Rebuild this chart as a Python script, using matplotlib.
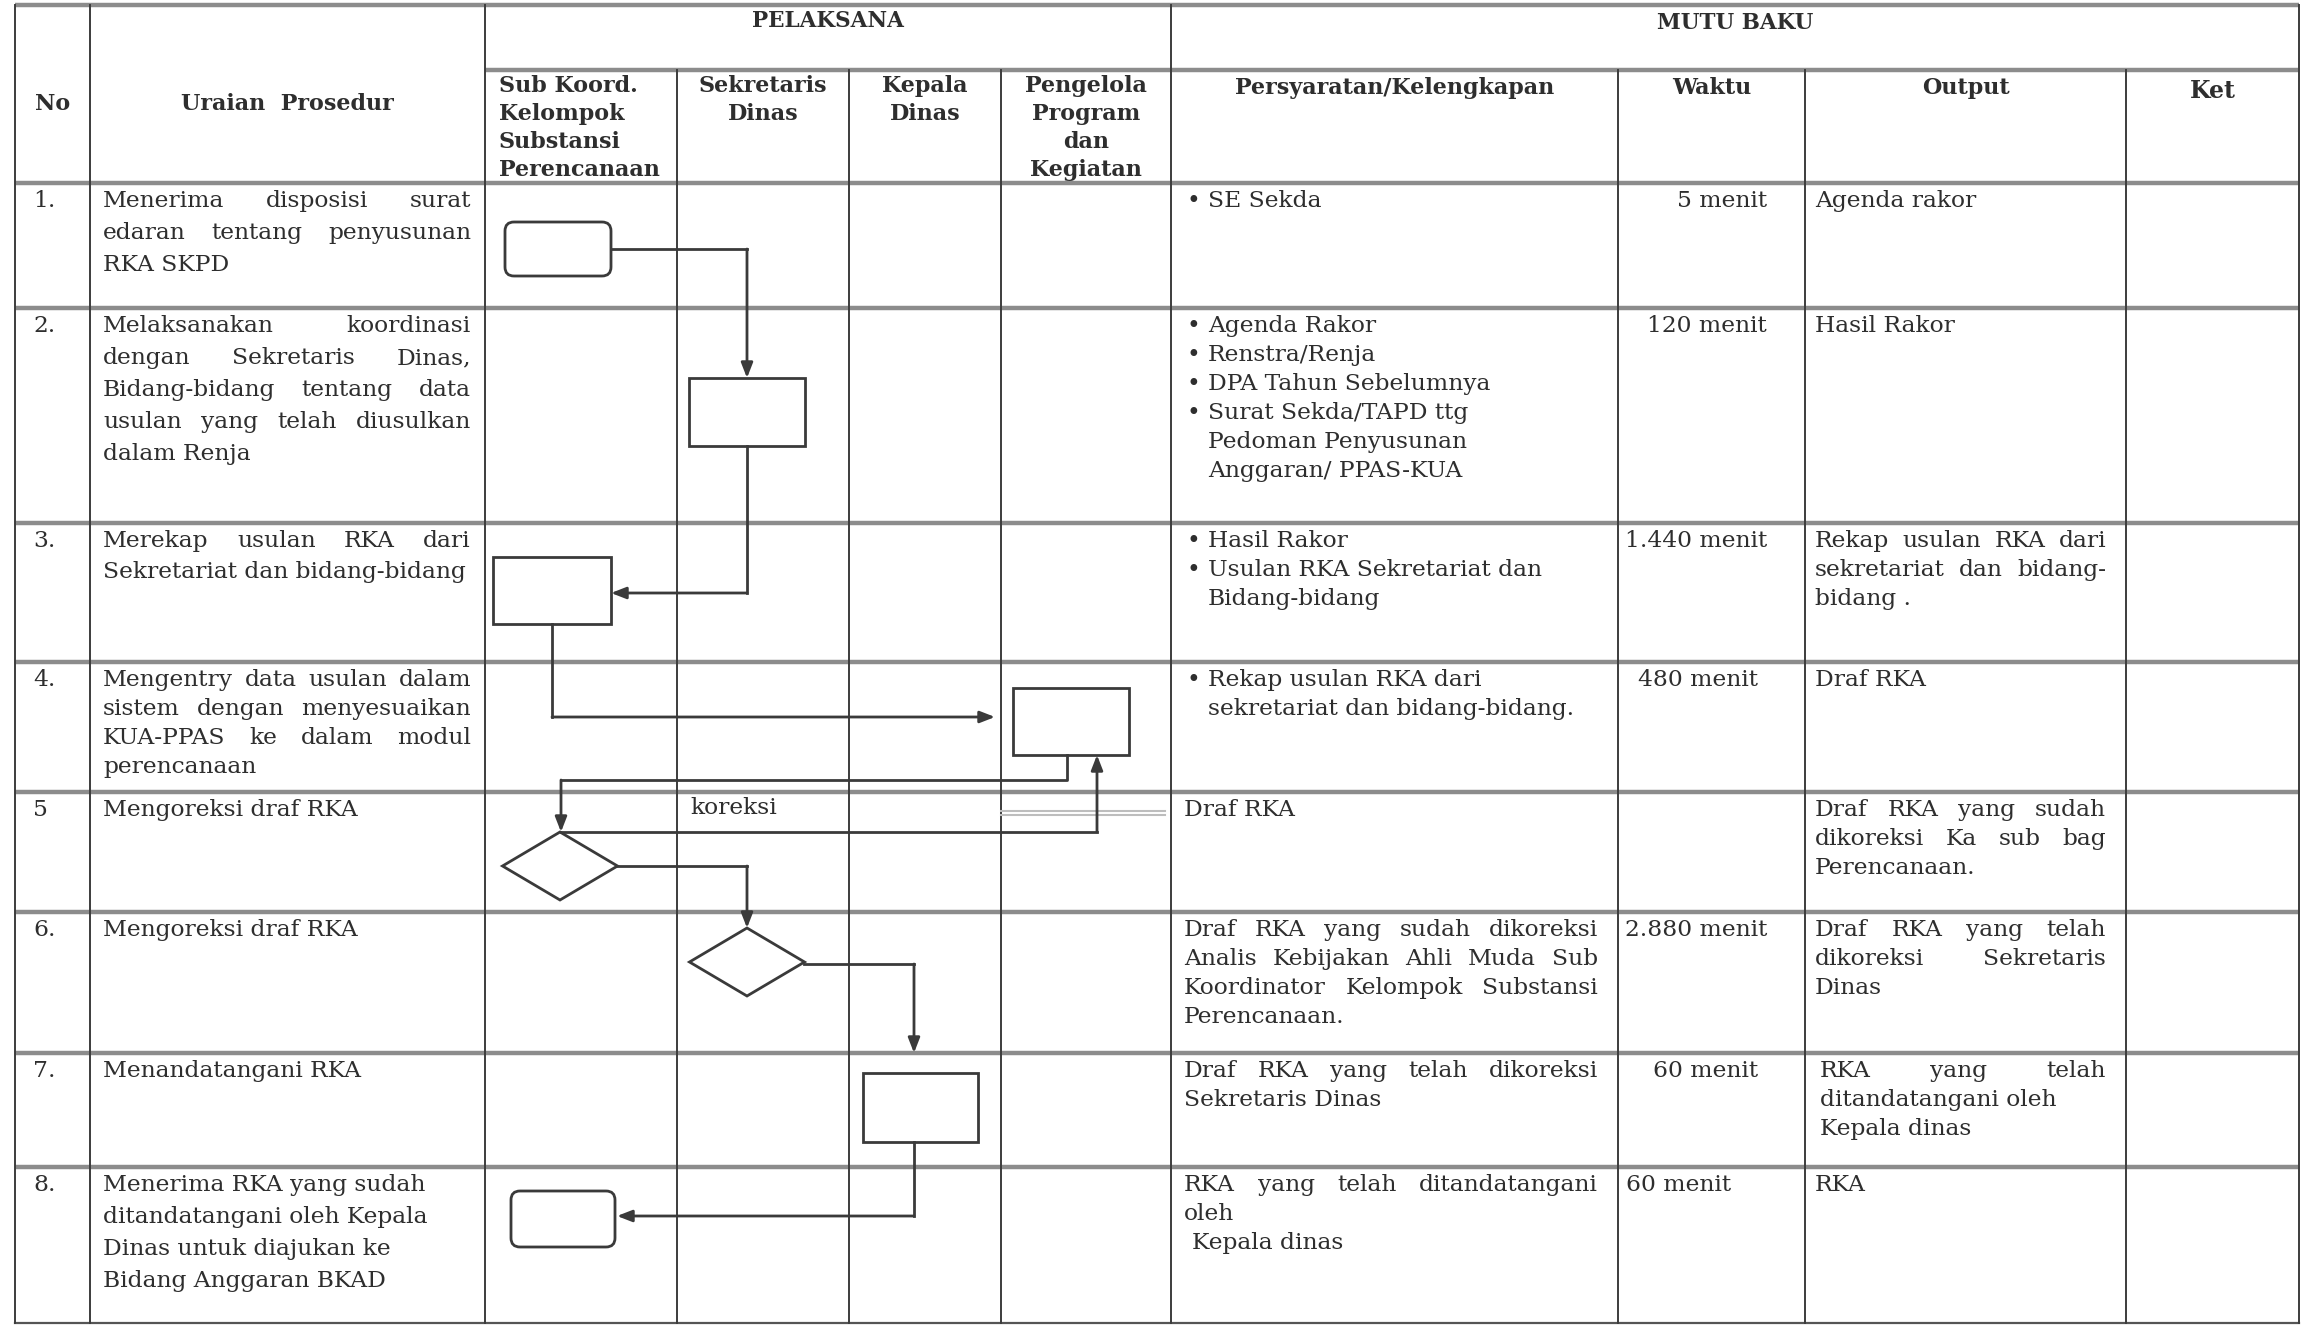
import matplotlib
matplotlib.use('Agg')
import matplotlib.pyplot as plt
from matplotlib.patches import FancyBboxPatch, Rectangle, Polygon

# ---- table content ----
nomor = ['1.', '2.', '3.', '4.', '5', '6.', '7.', '8.']

uraian = [
    ['Menerima disposisi surat', 'edaran tentang penyusunan', 'RKA SKPD'],
    ['Melaksanakan koordinasi', 'dengan Sekretaris Dinas,', 'Bidang-bidang tentang data',
     'usulan yang telah diusulkan', 'dalam Renja'],
    ['Merekap usulan RKA dari', 'Sekretariat dan bidang-bidang'],
    ['Mengentry data usulan dalam', 'sistem dengan menyesuaikan', 'KUA-PPAS ke dalam modul',
     'perencanaan'],
    ['Mengoreksi draf RKA'],
    ['Mengoreksi draf RKA'],
    ['Menandatangani RKA'],
    ['Menerima RKA yang sudah', 'ditandatangani oleh Kepala', 'Dinas untuk diajukan ke',
     'Bidang Anggaran BKAD'],
]
uraian_just = [2, 4, 1, 3, 0, 0, 0, 0]

syarat = [
    ['• SE Sekda'],
    ['• Agenda Rakor', '• Renstra/Renja', '• DPA Tahun Sebelumnya', '• Surat Sekda/TAPD ttg',
     'Pedoman Penyusunan', 'Anggaran/ PPAS-KUA'],
    ['• Hasil Rakor', '• Usulan RKA Sekretariat dan', 'Bidang-bidang'],
    ['• Rekap usulan RKA dari', 'sekretariat dan bidang-bidang.'],
    ['Draf RKA'],
    ['Draf RKA yang sudah dikoreksi', 'Analis Kebijakan Ahli Muda Sub',
     'Koordinator Kelompok Substansi', 'Perencanaan.'],
    ['Draf RKA yang telah dikoreksi', 'Sekretaris Dinas'],
    ['RKA yang telah ditandatangani', 'oleh', ' Kepala dinas'],
]
syarat_just = [0, 0, 0, 0, 0, 3, 1, 1]

waktu = ['5 menit', '120 menit', '1.440 menit', '480 menit', '', '2.880 menit', '60 menit', '60 menit']

output = [
    ['Agenda rakor'],
    ['Hasil Rakor'],
    ['Rekap usulan RKA dari', 'sekretariat dan bidang-', 'bidang .'],
    ['Draf RKA'],
    ['Draf RKA yang sudah', 'dikoreksi Ka sub bag', 'Perencanaan.'],
    ['Draf RKA yang telah', 'dikoreksi Sekretaris', 'Dinas'],
    ['RKA yang telah', 'ditandatangani oleh', 'Kepala dinas'],
    ['RKA'],
]
output_just = [0, 0, 2, 0, 2, 2, 1, 0]

pelaksana = ['Sub Koord.\nKelompok\nSubstansi\nPerencanaan', 'Sekretaris\nDinas',
             'Kepala\nDinas', 'Pengelola\nProgram\ndan\nKegiatan']
mutu = ['Persyaratan/Kelengkapan', 'Waktu', 'Output', 'Ket']

# flowchart symbols: kind, centre x, centre y, width, height
shapes = [
    ('term', 558, 249, 106, 54),
    ('proc', 747, 412, 116, 68),
    ('proc', 552, 590, 118, 67),
    ('proc', 1071, 721, 116, 67),
    ('dec', 560, 866, 115, 68),
    ('dec', 747, 962, 115, 68),
    ('proc', 920, 1107, 115, 69),
    ('term', 563, 1219, 104, 56),
]
connectors = [
    [(611, 249), (747, 249), (747, 378)],
    [(747, 446), (747, 593), (611, 593)],
    [(552, 624), (552, 717), (995, 717)],
    [(1067, 755), (1067, 780), (561, 780), (561, 832)],
    [(561, 832), (1097, 832), (1097, 755)],
    [(617, 866), (747, 866), (747, 928)],
    [(804, 964), (914, 964), (914, 1053)],
    [(914, 1142), (914, 1216), (617, 1216)],
]

# ---- layout ----
W, H = 2309, 1325
col_x = [15, 90, 485, 677, 849, 1001, 1171, 1618, 1805, 2126, 2299]
row_y = [183, 308, 523, 662, 792, 912, 1053, 1167, 1323]
top_y, mid_y = 5, 70
ur_step = [32, 32, 31, 29, 32, 32, 32, 32]

INK = '#2e2e2e'
SERIF = 'DejaVu Serif'
FS = 16.8

fig = plt.figure(figsize=(W / 100, H / 100), dpi=100)
fig.patch.set_facecolor('white')
ax = fig.add_axes([0, 0, 1, 1])
ax.set_xlim(0, W)
ax.set_ylim(H, 0)
ax.axis('off')
renderer = fig.canvas.get_renderer()

# grid
hkw = dict(color='#8c8c8c', lw=3.2, solid_capstyle='butt')
vkw = dict(color='#3c3c3c', lw=1.4)
ax.plot([col_x[0], col_x[-1]], [top_y, top_y], **hkw)
ax.plot([col_x[2], col_x[-1]], [mid_y, mid_y], **hkw)
for y in row_y[:-1]:
    ax.plot([col_x[0], col_x[-1]], [y, y], **hkw)
ax.plot([col_x[0], col_x[-1]], [row_y[-1], row_y[-1]], color='#555555', lw=1.6)
for i, x in enumerate(col_x):
    y0 = top_y if i in (0, 1, 2, 6, 10) else mid_y
    ax.plot([x, x], [y0, row_y[-1]], **vkw)
# faint double stroke left in the scan (row 5, last lane)
ax.plot([col_x[5], col_x[6] - 6], [811, 811], color='#bdbdbd', lw=1.5)
ax.plot([col_x[5], col_x[6] - 6], [815, 815], color='#bdbdbd', lw=1.5)


def width_of(s, **kw):
    t = ax.text(0, 0, s, **kw)
    w = t.get_window_extent(renderer=renderer).width
    t.remove()
    return w


def put(x0, x1, y, s, justify, **kw):
    if not justify:
        ax.text(x0, y, s, ha='left', va='center', **kw)
        return
    words = s.split()
    ws = [width_of(w, **kw) for w in words]
    gap = (x1 - x0 - sum(ws)) / max(len(words) - 1, 1)
    x = x0
    for w, wd in zip(words, ws):
        ax.text(x, y, w, ha='left', va='center', **kw)
        x += wd + gap


body = dict(fontsize=FS, family=SERIF, color=INK)
bold = dict(fontsize=16, family=SERIF, color=INK, fontweight='bold')

# header
ax.text((col_x[0] + col_x[1]) / 2, 104, 'No', ha='center', va='center', **bold)
ax.text((col_x[1] + col_x[2]) / 2, 104, 'Uraian  Prosedur', ha='center', va='center', **bold)
ax.text((col_x[2] + col_x[6]) / 2, 21, 'PELAKSANA', ha='center', va='center',
        **{**bold, 'fontsize': 15.5})
ax.text((col_x[6] + col_x[10]) / 2, 23, 'MUTU BAKU', ha='center', va='center',
        **{**bold, 'fontsize': 15.5})
for i, lab in enumerate(pelaksana):
    for j, line in enumerate(lab.split('\n')):
        if i == 0:
            ax.text(col_x[2] + 14, 86 + 28 * j, line, ha='left', va='center', **bold)
        else:
            ax.text((col_x[2 + i] + col_x[3 + i]) / 2, 86 + 28 * j, line,
                    ha='center', va='center', **bold)
for i, lab in enumerate(mutu):
    ax.text((col_x[6 + i] + col_x[7 + i]) / 2, 88 if lab != 'Ket' else 91, lab,
            ha='center', va='center', **({**bold, 'fontsize': 17} if lab == 'Ket' else bold))

# rows
for r in range(8):
    y0 = row_y[r] + 18
    ax.text(col_x[0] + 18, y0, nomor[r], ha='left', va='center', **body)
    for k, line in enumerate(uraian[r]):
        put(103, 471, y0 + k * ur_step[r], line, k < uraian_just[r], **body)
    has_bullet = any(s.startswith('• ') for s in syarat[r])
    for k, line in enumerate(syarat[r]):
        y = y0 + k * 29
        if line.startswith('• '):
            ax.text(1186, y, '•', ha='left', va='center', **body)
            put(1208, 1598, y, line[2:], False, **body)
        elif has_bullet:
            put(1208, 1598, y, line, False, **body)
        else:
            x0 = 1192 if line.startswith(' ') else 1184
            put(x0, 1598, y, line.strip(), k < syarat_just[r], **body)
    if waktu[r]:
        if r == 7:
            ax.text(1626, y0, waktu[r], ha='left', va='center', **body)
        else:
            ax.text(1767 if r not in (3, 6) else 1758, y0, waktu[r], ha='right', va='center', **body)
    for k, line in enumerate(output[r]):
        x0 = 1820 if r == 6 else 1815
        put(x0, 2106, y0 + k * 29, line, k < output_just[r], **body)

# flowchart
lkw = dict(color='#3a3a3a', lw=2.0)
for kind, cx, cy, w, h in shapes:
    if kind == 'term':
        p = FancyBboxPatch((cx - w / 2, cy - h / 2), w, h,
                           boxstyle='round,pad=0,rounding_size=9',
                           fill=False, ec='#3a3a3a', lw=2.0)
    elif kind == 'proc':
        p = Rectangle((cx - w / 2, cy - h / 2), w, h, fill=False, ec='#3a3a3a', lw=2.0)
    else:
        p = Polygon([(cx, cy - h / 2), (cx + w / 2, cy), (cx, cy + h / 2), (cx - w / 2, cy)],
                    closed=True, fill=False, ec='#3a3a3a', lw=2.0)
    ax.add_patch(p)

for pts in connectors:
    xs = [p[0] for p in pts[:-1]]
    ys = [p[1] for p in pts[:-1]]
    ax.plot(xs, ys, **lkw)
    ax.annotate('', xy=pts[-1], xytext=pts[-2],
                arrowprops=dict(arrowstyle='-|>,head_length=0.9,head_width=0.35',
                                color='#3a3a3a', lw=2.0, shrinkA=0, shrinkB=0))

ax.text(690, 808, 'koreksi', ha='left', va='center', **body)

fig.savefig('out.png', dpi=100, facecolor='white')
